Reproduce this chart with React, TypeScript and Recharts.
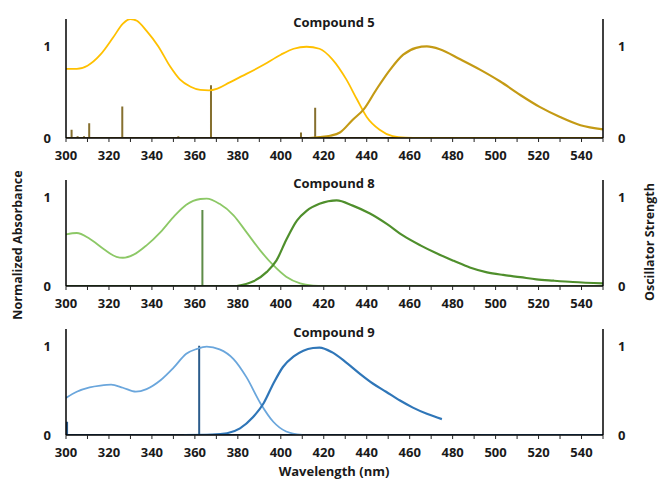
import React from "react";
import { ComposedChart, Line, XAxis, YAxis } from "recharts";

// wavelength (nm) / normalized value pairs
const c5Absorbance: [number, number][] = [
  [300, 0.755], [305, 0.755], [310, 0.79], [316, 0.91], [322, 1.1], [326.5, 1.25],
  [330, 1.3], [333, 1.28], [337.5, 1.17], [343, 1.0], [348.5, 0.78], [353, 0.64],
  [358, 0.56], [362.5, 0.525], [366.5, 0.52], [370.5, 0.54], [376, 0.605], [384, 0.7], [392, 0.8],
  [400, 0.91], [406, 0.975], [412, 0.997], [418, 0.975], [424, 0.86], [430.5, 0.64],
  [435.5, 0.42], [440, 0.23], [446, 0.09], [452, 0.02], [458, 0.003], [465, 0], [550, 0],
];
const c5Emission: [number, number][] = [
  [413, 0], [418, 0.01], [423, 0.025], [427.5, 0.06], [433.5, 0.2], [438.5, 0.31],
  [444.5, 0.53], [451, 0.75], [457, 0.91], [463, 0.985], [468, 1.0], [474, 0.97],
  [483.5, 0.86], [492.5, 0.75], [502, 0.62], [511.5, 0.47], [520.5, 0.34], [530, 0.23],
  [539.5, 0.14], [550, 0.095],
];
const c5Oscillator: [number, number][] = [
  [302.6, 0.09], [305.4, 0.02], [308.4, 0.02], [310.8, 0.16], [325.4, 0.01], [326.2, 0.345],
  [352.3, 0.02], [367.5, 0.575], [384, 0.01], [409.4, 0.06], [416, 0.33],
];

const c8Absorbance: [number, number][] = [
  [300, 0.585], [305, 0.6], [311, 0.535], [317.5, 0.42], [323.5, 0.33], [326.5, 0.32],
  [331.5, 0.355], [337.5, 0.46], [344, 0.61], [350, 0.78], [356, 0.92], [362.5, 0.985],
  [365.5, 0.99], [371.5, 0.93], [378, 0.8], [384, 0.61], [390.5, 0.4], [396.5, 0.235],
  [402.5, 0.105], [409, 0.03], [415, 0.005], [420, 0], [550, 0],
];
const c8Emission: [number, number][] = [
  [379.5, 0], [387, 0.05], [393.5, 0.16], [398, 0.29], [402.5, 0.52], [407.5, 0.74],
  [412, 0.85], [418, 0.93], [426, 0.97], [433.5, 0.91], [441.5, 0.82], [449.5, 0.7],
  [457, 0.57], [465, 0.46], [472.5, 0.37], [480.5, 0.285], [488, 0.21], [496, 0.155],
  [503.5, 0.125], [511.5, 0.1], [519, 0.075], [527, 0.06], [536, 0.045], [550, 0.03],
];
const c8Oscillator: [number, number][] = [[363.5, 0.86]];

const c9Absorbance: [number, number][] = [
  [300, 0.42], [305, 0.49], [311, 0.54], [316, 0.56], [321, 0.57], [326.5, 0.535],
  [332.5, 0.49], [337.5, 0.52], [344, 0.62], [350, 0.76], [356, 0.92], [361, 0.975],
  [365.5, 1.0], [371.5, 0.97], [378, 0.86], [384, 0.655], [390.5, 0.36], [396.5, 0.15],
  [402.5, 0.04], [410, 0],
];
const c9Emission: [number, number | null][] = [
  [355, 0], [368, 0.005], [375, 0.02], [381, 0.075], [387, 0.2], [392, 0.36],
  [396.5, 0.58], [401, 0.77], [406, 0.89], [410.5, 0.955], [415, 0.985], [418, 0.99],
  [424, 0.935], [430.5, 0.82], [437, 0.69], [443, 0.58], [449, 0.49], [455.5, 0.39],
  [461.5, 0.31], [468, 0.24], [475, 0.18], [484, null], [493, 0], [550, 0],
];
const c9Oscillator: [number, number][] = [[300.5, 0.15], [362, 1.01]];

const xTicks = [300, 310, 320, 330, 340, 350, 360, 370, 380, 390, 400, 410, 420, 430, 440, 450, 460, 470, 480, 490, 500, 510, 520, 530, 540, 550];
const yTicks = [0, 1];

const FONT = '"Open Sans", sans-serif';
const tickStyle = { fontSize: 13, fontWeight: 700, fill: "#1a1a1a", fontFamily: FONT };

const toPoints = (arr: [number, number | null][]) => arr.map(([x, y]) => ({ x, y }));

// vertical sticks from the baseline, plus the baseline itself
const toSticks = (arr: [number, number][]) => {
  const pts = [{ x: 300, y: 0 }];
  arr.forEach(([x, f]) => {
    pts.push({ x, y: 0 }, { x, y: f }, { x, y: 0 });
  });
  pts.push({ x: 550, y: 0 });
  return pts;
};

interface PanelProps {
  top: number;
  height: number;
  marginTop: number;
  plotHeight: number;
  yMax: number;
  absorbance: [number, number | null][];
  emission: [number, number | null][];
  sticks: [number, number][];
  absColor: string;
  emiColor: string;
  stickColor: string;
}

const Panel: React.FC<PanelProps> = ({
  top, height, marginTop, plotHeight, yMax, absorbance, emission, sticks, absColor, emiColor, stickColor,
}) => {
  const xHeight = height - marginTop - plotHeight;
  return (
    <div style={{ position: "absolute", left: 0, top }}>
      <ComposedChart width={658} height={height} margin={{ top: marginTop, right: 0, left: 0, bottom: 0 }}>
        <XAxis
          type="number"
          dataKey="x"
          domain={[300, 550]}
          ticks={xTicks}
          interval={0}
          allowDataOverflow
          height={xHeight}
          tickSize={4}
          tickMargin={9}
          tick={tickStyle}
          tickFormatter={(v: number) => (v % 20 === 0 && v < 550 ? String(v) : "")}
          axisLine={{ stroke: "#000", strokeWidth: 1.5 }}
          tickLine={{ stroke: "#222" }}
        />
        <YAxis
          yAxisId="left"
          width={66}
          domain={[0, yMax]}
          ticks={yTicks}
          allowDataOverflow
          tickLine={false}
          tickMargin={9}
          tick={tickStyle}
          axisLine={{ stroke: "#000", strokeWidth: 1.5 }}
        />
        <YAxis
          yAxisId="right"
          orientation="right"
          width={55}
          domain={[0, yMax]}
          ticks={yTicks}
          allowDataOverflow
          tickLine={false}
          tickMargin={9}
          tick={tickStyle}
          axisLine={{ stroke: "#000", strokeWidth: 1.5 }}
        />
        <Line
          yAxisId="right"
          data={toSticks(sticks)}
          dataKey="y"
          type="linear"
          stroke={stickColor}
          strokeWidth={2}
          dot={false}
          activeDot={false}
          isAnimationActive={false}
        />
        <Line
          yAxisId="left"
          data={toPoints(absorbance)}
          dataKey="y"
          type="monotone"
          stroke={absColor}
          strokeWidth={1.8}
          dot={false}
          activeDot={false}
          isAnimationActive={false}
        />
        <Line
          yAxisId="left"
          data={toPoints(emission)}
          dataKey="y"
          type="monotone"
          stroke={emiColor}
          strokeWidth={2.2}
          dot={false}
          activeDot={false}
          connectNulls={false}
          isAnimationActive={false}
        />
      </ComposedChart>
    </div>
  );
};

const labelStyle = { fontFamily: FONT, fontSize: 13, fontWeight: 700, fill: "#1a1a1a" };

export default function App() {
  return (
    <div style={{ position: "absolute", left: 0, top: 0, width: 658, height: 481, background: "#fff", overflow: "hidden" }}>
      <Panel
        top={0} height={172} marginTop={19} plotHeight={119} yMax={1.3}
        absorbance={c5Absorbance} emission={c5Emission} sticks={c5Oscillator}
        absColor="#FFC000" emiColor="#C49A14" stickColor="#86702F"
      />
      <Panel
        top={160} height={160} marginTop={20} plotHeight={106} yMax={1.2}
        absorbance={c8Absorbance} emission={c8Emission} sticks={c8Oscillator}
        absColor="#8CC866" emiColor="#4F8F2C" stickColor="#5E8C48"
      />
      <Panel
        top={310} height={160} marginTop={19} plotHeight={106} yMax={1.2}
        absorbance={c9Absorbance} emission={c9Emission} sticks={c9Oscillator}
        absColor="#6AA6DC" emiColor="#2F76B8" stickColor="#2C5C8C"
      />
      <svg width={658} height={481} style={{ position: "absolute", left: 0, top: 0, pointerEvents: "none" }}>
        <text x={334} y={27} textAnchor="middle" style={labelStyle}>Compound 5</text>
        <text x={334} y={188} textAnchor="middle" style={labelStyle}>Compound 8</text>
        <text x={334} y={337} textAnchor="middle" style={labelStyle}>Compound 9</text>
        <text x={334} y={476} textAnchor="middle" style={labelStyle}>Wavelength (nm)</text>
        <text x={22} y={245} textAnchor="middle" transform="rotate(-90 22 245)" style={{ ...labelStyle, fontSize: 12.5 }}>
          Normalized Absorbance
        </text>
        <text x={654} y={242} textAnchor="middle" transform="rotate(-90 654 242)" style={{ ...labelStyle, fontSize: 12.5 }}>
          Oscillator Strength
        </text>
      </svg>
    </div>
  );
}
